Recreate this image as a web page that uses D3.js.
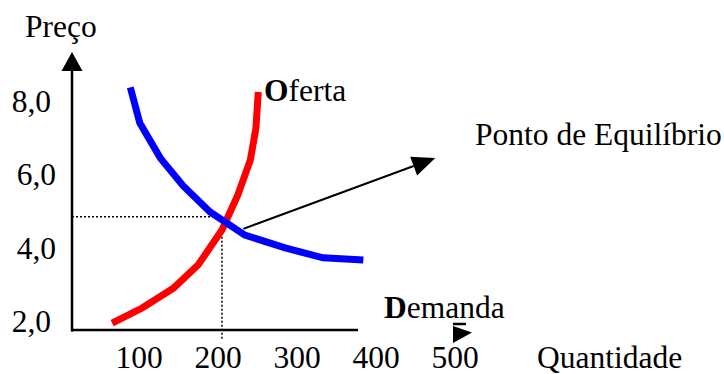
<!DOCTYPE html>
<html>
<head>
<meta charset="utf-8">
<script src="https://cdn.jsdelivr.net/npm/d3@7/dist/d3.min.js"></script>
<style>
  html, body { margin: 0; padding: 0; background: #fff; }
  svg text { font-family: "Liberation Serif", "Times New Roman", serif; fill: #000; }
</style>
</head>
<body>
<svg id="chart" width="724" height="374"></svg>
<script>
// ---- data ----
const quantityTicks = [100, 200, 300, 400, 500];
const priceTicks = [2, 4, 6, 8];
const priceTickLabels = ["2,0", "4,0", "6,0", "8,0"];

const demandQ = [89, 101, 127, 156, 190, 234, 285, 333, 384];
const demandP = [8.40, 7.43, 6.47, 5.71, 5.00, 4.37, 4.02, 3.75, 3.69];

const supplyQ = [66, 104, 144, 175, 205, 225, 241, 248, 251];
const supplyP = [1.97, 2.38, 2.93, 3.56, 4.51, 5.46, 6.42, 7.29, 8.27];

const equilibriumQ = 205;
const equilibriumP = 4.87;
const arrowFrom = [232, 4.54];
const arrowTo = [475, 6.47];

// ---- layout ----
const W = 724, H = 374;
const FS = 31.5;
const svg = d3.select("#chart");
svg.append("rect").attr("width", W).attr("height", H).attr("fill", "#fff");

const x = d3.scaleLinear().domain([0, 500]).range([60, 455]);
const y = d3.scaleLinear().domain([2, 8]).range([322, 102]);

const axisX0 = 72, axisY0 = 330;

// dotted guides
svg.append("line")
  .attr("x1", axisX0).attr("x2", x(equilibriumQ))
  .attr("y1", y(equilibriumP)).attr("y2", y(equilibriumP))
  .attr("stroke", "#000").attr("stroke-width", 1.5).attr("stroke-dasharray", "2,2");
svg.append("line")
  .attr("x1", x(equilibriumQ)).attr("x2", x(equilibriumQ))
  .attr("y1", y(equilibriumP)).attr("y2", axisY0 + 10)
  .attr("stroke", "#000").attr("stroke-width", 1.5).attr("stroke-dasharray", "2,2");

// axes
svg.append("line").attr("x1", axisX0).attr("x2", axisX0).attr("y1", 68).attr("y2", axisY0 + 1.5)
  .attr("stroke", "#000").attr("stroke-width", 2.5);
svg.append("path").attr("d", `M${axisX0 - 10.5},71 L${axisX0 + 10.5},71 L${axisX0},52 Z`).attr("fill", "#000");
svg.append("line").attr("x1", axisX0 - 1).attr("x2", 358).attr("y1", axisY0).attr("y2", axisY0)
  .attr("stroke", "#000").attr("stroke-width", 2.5);

// small arrow near 500
svg.append("line").attr("x1", 453).attr("x2", 466).attr("y1", 324).attr("y2", 324)
  .attr("stroke", "#000").attr("stroke-width", 2.5);
svg.append("path").attr("d", "M453,326 L472,332.5 L453,343 Z").attr("fill", "#000");

// tick labels
svg.selectAll("text.xt").data(quantityTicks).enter().append("text")
  .attr("class", "xt")
  .attr("x", d => x(d)).attr("y", 368)
  .attr("text-anchor", "middle").attr("font-size", FS)
  .text(d => d);

svg.selectAll("text.yt").data(priceTicks).enter().append("text")
  .attr("class", "yt")
  .attr("x", d => (d === 4 || d === 6) ? 56 : 51).attr("y", d => y(d) + 10)
  .attr("text-anchor", "end").attr("font-size", FS)
  .text((d, i) => priceTickLabels[i]);

// curves
const line = d3.line().x(d => x(d[0])).y(d => y(d[1]));
svg.append("path")
  .datum(supplyQ.map((q, i) => [q, supplyP[i]]))
  .attr("d", line).attr("fill", "none").attr("stroke", "#ff0000").attr("stroke-width", 7);
svg.append("path")
  .datum(demandQ.map((q, i) => [q, demandP[i]]))
  .attr("d", line).attr("fill", "none").attr("stroke", "#0000ff").attr("stroke-width", 7);

// equilibrium arrow
const ax1 = x(arrowFrom[0]), ay1 = y(arrowFrom[1]);
const ax2 = x(arrowTo[0]), ay2 = y(arrowTo[1]);
const ang = Math.atan2(ay2 - ay1, ax2 - ax1);
const headL = 23, headW = 10;
const bx = ax2 - headL * Math.cos(ang), by = ay2 - headL * Math.sin(ang);
svg.append("line").attr("x1", ax1).attr("y1", ay1).attr("x2", bx).attr("y2", by)
  .attr("stroke", "#000").attr("stroke-width", 2);
svg.append("path")
  .attr("d", `M${ax2},${ay2} L${bx - headW * Math.sin(ang)},${by + headW * Math.cos(ang)} L${bx + headW * Math.sin(ang)},${by - headW * Math.cos(ang)} Z`)
  .attr("fill", "#000");

// labels
svg.append("text").attr("x", 25).attr("y", 37).attr("font-size", FS).text("Preço");
const of = svg.append("text").attr("x", 264).attr("y", 101).attr("font-size", FS);
of.append("tspan").attr("font-weight", "bold").text("O");
of.append("tspan").text("ferta");
const dm = svg.append("text").attr("x", 384).attr("y", 318).attr("font-size", FS);
dm.append("tspan").attr("font-weight", "bold").text("D");
dm.append("tspan").text("emanda");
svg.append("text").attr("x", 475).attr("y", 145).attr("font-size", FS).text("Ponto de Equilíbrio");
svg.append("text").attr("x", 537).attr("y", 368).attr("font-size", FS).text("Quantidade");
</script>
</body>
</html>
